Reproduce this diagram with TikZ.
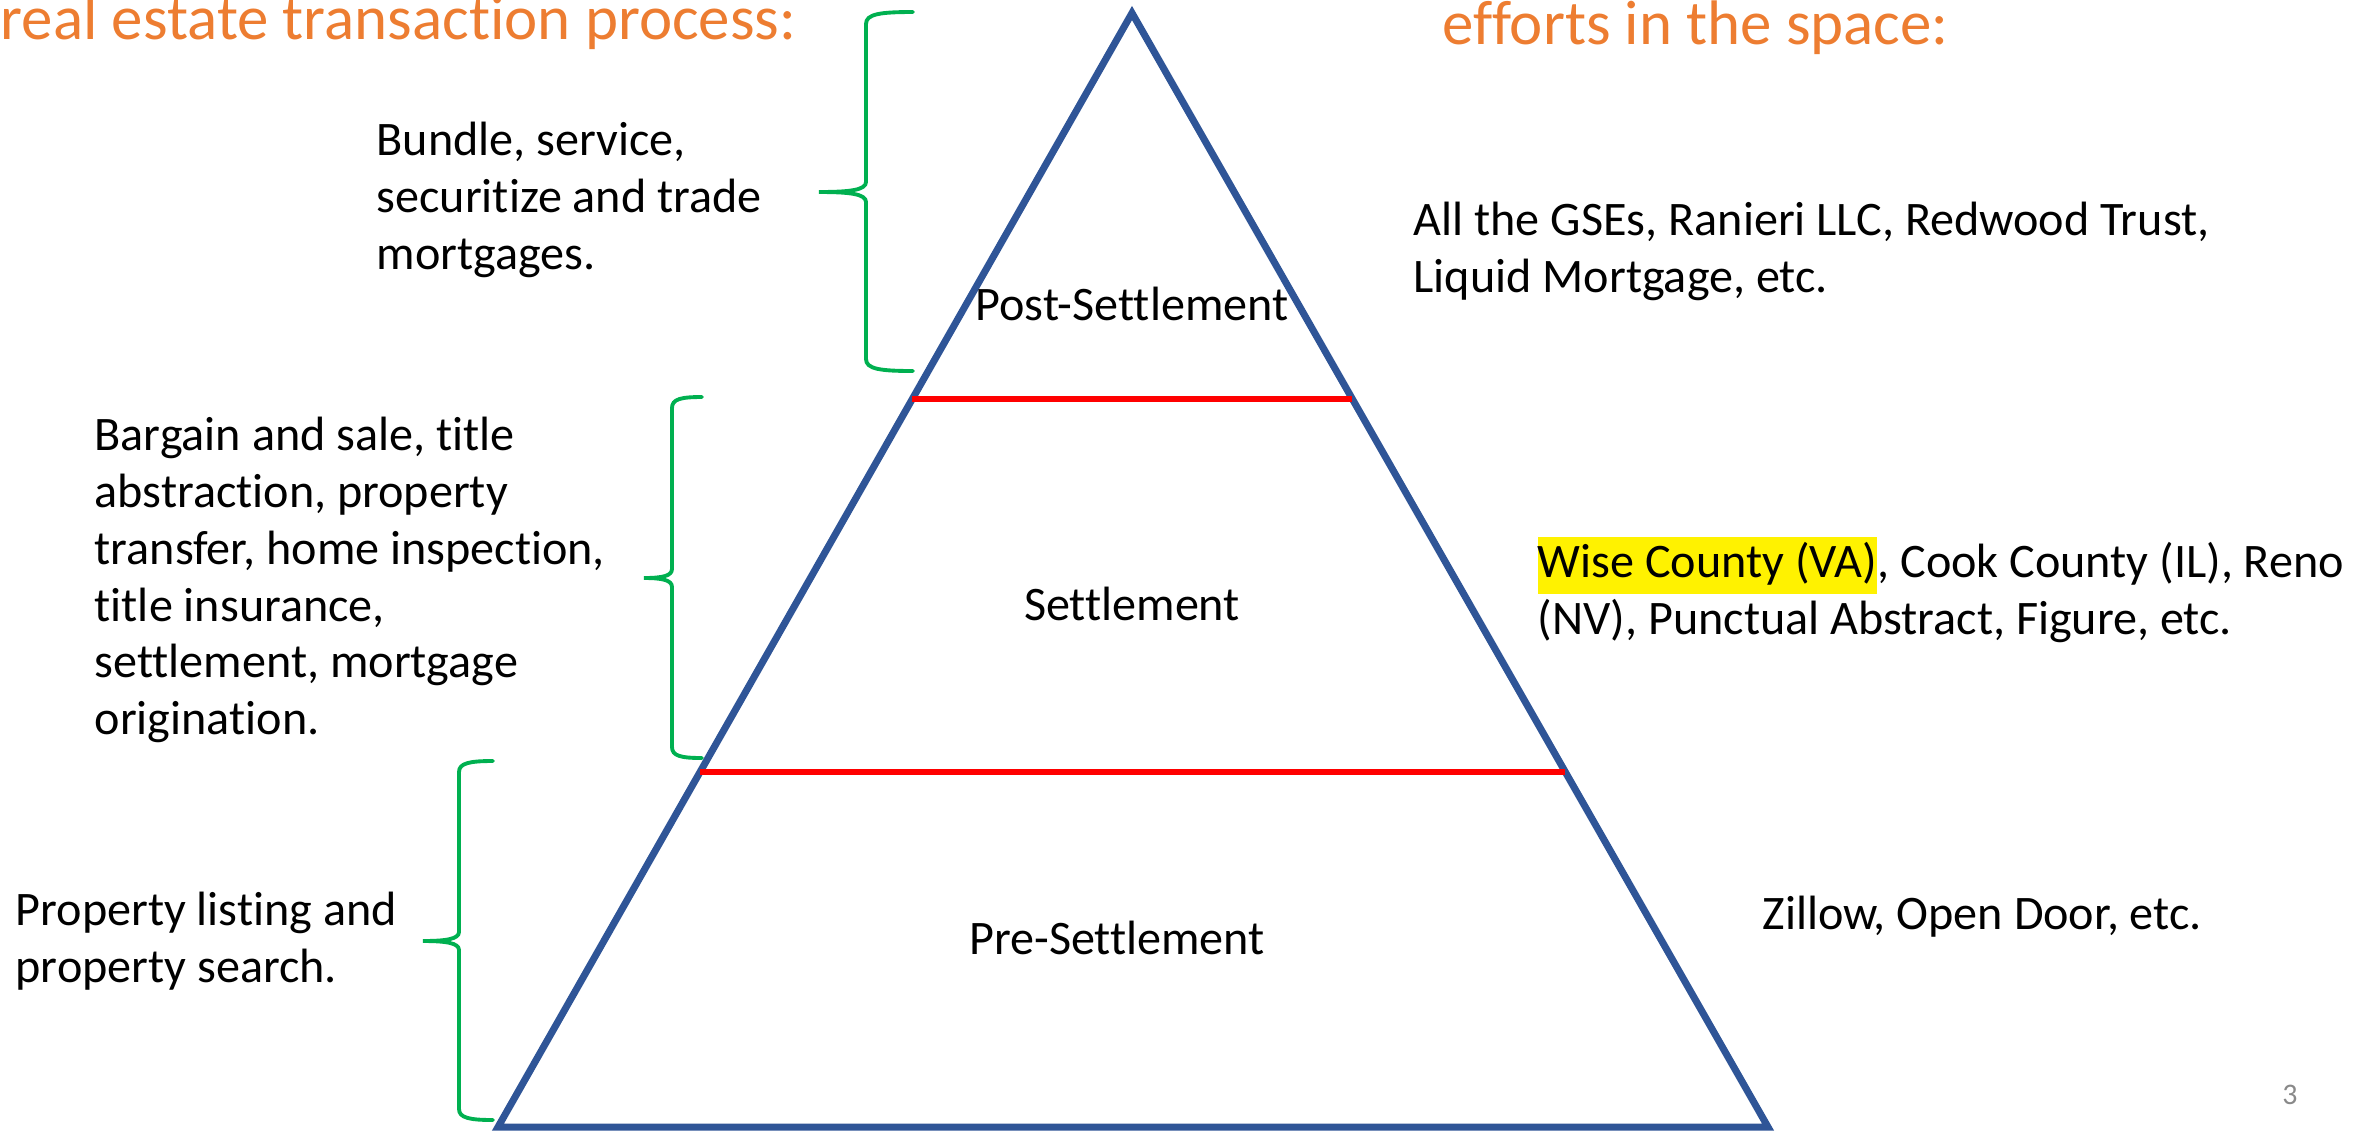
\documentclass[tikz,border=0pt]{standalone}
\usepackage{fontspec}
\setmainfont[Ligatures=NoCommon]{Carlito}
\usepackage{tikz}
\usetikzlibrary{calc}
\usepackage{xcolor}

\definecolor{pyrblue}{HTML}{2F5597}
\definecolor{bracegreen}{HTML}{00B050}
\definecolor{headorange}{HTML}{ED7D31}
\definecolor{pagegray}{HTML}{898989}
\setlength{\fboxsep}{0pt}

\begin{document}
\begin{tikzpicture}[x=1cm,y=-1cm,
    txt/.style={inner sep=0pt,align=left,anchor=west,font=\fontsize{13.7}{16.2}\selectfont},
    layer/.style={inner sep=0pt,font=\fontsize{13.7}{16.2}\selectfont},
    head/.style={inner sep=0pt,anchor=base west,text=headorange,font=\fontsize{17.9}{21}\selectfont},
    brace/.style={bracegreen,line width=1.1pt,line cap=round}]
    \useasboundingbox (0,0) rectangle (23.69,11.31);
    % headings, cut off at the top edge
    \node[head] (titleleft) at (0,0.39) {real estate transaction process:};
    \node[head] (titleright) at (14.42,0.44) {efforts in the space:};
    % pyramid
    \coordinate (apex) at (11.32,0.13);
    \coordinate (bl) at (4.98,11.27);
    \coordinate (br) at (17.68,11.27);
    \draw[pyrblue,line width=2pt] (apex) -- (bl) -- (br) -- cycle;
    \draw[red,line width=1.45pt] ($(apex)!0.3465!(bl)$) -- ($(apex)!0.3465!(br)$);
    \draw[red,line width=1.45pt] ($(apex)!0.6813!(bl)$) -- ($(apex)!0.6813!(br)$);
    \node[layer] (post) at (11.32,3.04) {Post-Settlement};
    \node[layer] (settle) at (11.32,6.04) {Settlement};
    \node[layer] (pre) at (11.17,9.38) {Pre-Settlement};
    % braces on the left
    \draw[brace] (9.13,0.12) .. controls (8.80,0.12) and (8.66,0.14) .. (8.66,0.24) -- (8.66,1.82)
        .. controls (8.66,1.90) and (8.50,1.92) .. (8.19,1.92) .. controls (8.50,1.92) and (8.66,1.94) .. (8.66,2.02)
        -- (8.66,3.59) .. controls (8.66,3.69) and (8.80,3.71) .. (9.13,3.71);
    \draw[brace] (7.02,3.97) .. controls (6.81,3.97) and (6.72,3.99) .. (6.72,4.08) -- (6.72,5.69)
        .. controls (6.72,5.76) and (6.62,5.78) .. (6.44,5.78) .. controls (6.62,5.78) and (6.72,5.80) .. (6.72,5.87)
        -- (6.72,7.47) .. controls (6.72,7.56) and (6.81,7.58) .. (7.02,7.58);
    \draw[brace] (4.93,7.61) .. controls (4.70,7.61) and (4.59,7.63) .. (4.59,7.72) -- (4.59,9.32)
        .. controls (4.59,9.39) and (4.46,9.41) .. (4.23,9.41) .. controls (4.46,9.41) and (4.59,9.43) .. (4.59,9.50)
        -- (4.59,11.09) .. controls (4.59,11.18) and (4.70,11.20) .. (4.93,11.20);
    % what happens in each layer
    \node[txt] (postwork) at (3.76,2.00) {Bundle, service,\\securitize and trade\\mortgages.};
    \node[txt] (settlework) at (0.94,5.80) {Bargain and sale, title\\abstraction, property\\transfer, home inspection,\\title insurance,\\settlement, mortgage\\origination.};
    \node[txt] (prework) at (0.15,9.41) {Property listing and\\property search.};
    % who is working on it
    \node[txt] (postplayers) at (14.13,2.51) {All the GSEs, Ranieri LLC, Redwood Trust,\\Liquid Mortgage, etc.};
    \node[txt] (settleplayers) at (15.37,5.90) {\colorbox{yellow}{\strut Wise County (VA)}, Cook County (IL), Reno\\(NV), Punctual Abstract, Figure, etc.};
    \node[txt] (preplayers) at (17.62,9.17) {Zillow, Open Door, etc.};
    \node[inner sep=0pt,text=pagegray,font=\fontsize{8.5}{10}\selectfont] (pagenum) at (22.90,10.95) {3};
\end{tikzpicture}
\end{document}
